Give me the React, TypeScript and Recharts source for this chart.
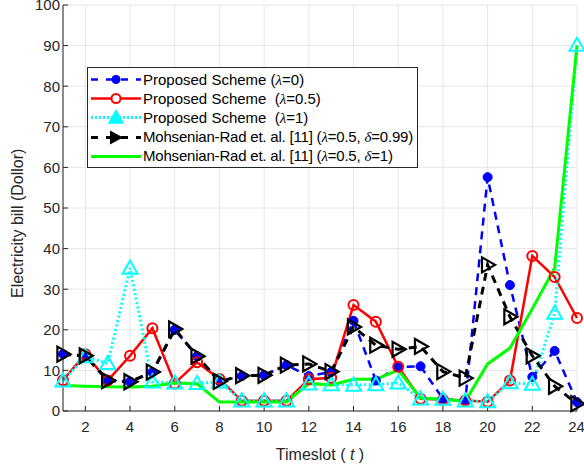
import React from "react";
import { CartesianGrid, Line, LineChart, XAxis, YAxis } from "recharts";

const slots = [1, 2, 3, 4, 5, 6, 7, 8, 9, 10, 11, 12, 13, 14, 15, 16, 17, 18, 19, 20, 21, 22, 23, 24];
const lambda0 = [14, 13.5, 7.5, 7.2, 9.5, 20, 13.5, 7.3, 8.6, 8.8, 11.3, 8.6, 9.6, 22.2, 7.5, 10.8, 11, 3, 2.5, 57.6, 31, 8.4, 14.8, 2.2];
const lambda05 = [7.6, 14, 7.5, 13.6, 20.4, 6.8, 12, 7.9, 2.5, 2.5, 2.5, 7.8, 8.2, 26.1, 22, 10.9, 3, 2.8, 2.6, 2.3, 7.5, 38.2, 33, 22.9];
const lambda1 = [7.4, 13.4, 11.7, 35.2, 7.2, 6.9, 6.8, 7.2, 2.5, 2.5, 2.5, 6.7, 6.5, 6.4, 6.5, 6.9, 3, 2.9, 2.5, 2.3, 7, 6.6, 24.1, 90.1];
const mohsenian099 = [14, 13.6, 7.5, 7.2, 9.6, 20.2, 13.5, 7.3, 8.7, 8.8, 11.3, 11.6, 9.7, 20.7, 16.2, 15.2, 15.9, 9.7, 8.1, 36, 23.2, 13.6, 6.1, 1.8];
const mohsenian1 = [6.3, 6.1, 6, 5.9, 6.1, 6.9, 6.7, 2.2, 2.2, 2.2, 2.2, 6.8, 6.4, 7.8, 7.8, 10.1, 3.2, 2.9, 2.4, 11.6, 15.5, 25.2, 35.2, 90];
const xTicks = [2, 4, 6, 8, 10, 12, 14, 16, 18, 20, 22, 24];
const yTicks = [0, 10, 20, 30, 40, 50, 60, 70, 80, 90, 100];

const data = slots.map((t, i) => ({
  t,
  a: lambda0[i],
  b: lambda05[i],
  c: lambda1[i],
  d: mohsenian099[i],
  e: mohsenian1[i],
}));

const axisColor = "#262626";
const font = "'Liberation Sans', Arial, sans-serif";

function CircleDot(props: any) {
  const { cx, cy } = props;
  if (cx == null || cy == null) return null;
  return <circle cx={cx} cy={cy} r={5} fill="none" stroke="#ff0000" strokeWidth={2} />;
}

function BlueDot(props: any) {
  const { cx, cy } = props;
  if (cx == null || cy == null) return null;
  return <circle cx={cx} cy={cy} r={4.5} fill="#0000ff" stroke="#0000ff" />;
}

function UpTri(props: any) {
  const { cx, cy } = props;
  if (cx == null || cy == null) return null;
  const s = 7.5;
  return (
    <polygon
      points={`${cx},${cy - s} ${cx - s},${cy + s * 0.75} ${cx + s},${cy + s * 0.75}`}
      fill="none"
      stroke="#00ffff"
      strokeWidth={2}
    />
  );
}

function RightTri(props: any) {
  const { cx, cy } = props;
  if (cx == null || cy == null) return null;
  const s = 7.5;
  return (
    <polygon
      points={`${cx + s},${cy} ${cx - s * 0.75},${cy - s} ${cx - s * 0.75},${cy + s}`}
      fill="none"
      stroke="#000000"
      strokeWidth={2.2}
    />
  );
}

const legendRows = [
  { key: "a", color: "#0000ff", dash: "7 8", width: 2.5, marker: "dot", pre: "Proposed Scheme (", sym: "λ", post: "=0)" },
  { key: "b", color: "#ff0000", dash: undefined, width: 2.5, marker: "circle", pre: "Proposed Scheme  (", sym: "λ", post: "=0.5)" },
  { key: "c", color: "#00ffff", dash: "2 2", width: 3, marker: "up", pre: "Proposed Scheme  (", sym: "λ", post: "=1)" },
  { key: "d", color: "#000000", dash: "7 8", width: 3, marker: "right", pre: "Mohsenian-Rad et. al. [11] (", sym: "λ", post: "=0.5, ", sym2: "δ", post2: "=0.99)" },
  { key: "e", color: "#00ff00", dash: undefined, width: 3, marker: "none", pre: "Mohsenian-Rad et. al. [11] (", sym: "λ", post: "=0.5, ", sym2: "δ", post2: "=1)" },
];

function LegendBox() {
  return (
    <div
      style={{
        position: "absolute",
        left: 87,
        top: 67,
        width: 331,
        height: 101,
        boxSizing: "border-box",
        border: `1px solid ${axisColor}`,
        background: "#fff",
        paddingTop: 2,
        fontFamily: font,
        fontSize: 15,
        color: "#000",
      }}
    >
      {legendRows.map((r) => (
        <div key={r.key} style={{ display: "flex", alignItems: "center", height: 19.2 }}>
          <svg width={55} height={19} style={{ flex: "none" }}>
            <line x1={3} y1={9.5} x2={53} y2={9.5} stroke={r.color} strokeWidth={r.width} strokeDasharray={r.dash} />
            {r.marker === "dot" && <circle cx={28} cy={9.5} r={4.5} fill="#0000ff" />}
            {r.marker === "circle" && <circle cx={28} cy={9.5} r={4.5} fill="#fff" stroke="#ff0000" strokeWidth={2} />}
            {r.marker === "up" && <polygon points="28,2.5 21,15 35,15" fill="#00ffff" stroke="#00ffff" strokeWidth={1.5} />}
            {r.marker === "right" && <polygon points="35,9.5 22,2.5 22,16.5" fill="#000" />}
          </svg>
          <span style={{ whiteSpace: "pre", letterSpacing: r.sym2 ? -0.2 : 0 }}>
            {r.pre}
            <span style={{ fontFamily: "'Liberation Serif', serif", fontStyle: "italic" }}>{r.sym}</span>
            {r.post}
            {r.sym2 && (
              <>
                <span style={{ fontFamily: "'Liberation Serif', serif", fontStyle: "italic" }}>{r.sym2}</span>
                {r.post2}
              </>
            )}
          </span>
        </div>
      ))}
    </div>
  );
}

function XLabel(props: any) {
  const { viewBox } = props;
  const cx = viewBox.x + viewBox.width / 2;
  return (
    <text x={cx} y={460} textAnchor="middle" fill={axisColor} fontSize={16} fontFamily={font}>
      Timeslot (
      <tspan fontStyle="italic"> t </tspan>)
    </text>
  );
}

export default function App() {
  return (
    <div style={{ position: "fixed", left: 0, top: 0, width: 584, height: 467, background: "#fff" }}>
      <LineChart width={584} height={467} data={data} margin={{ top: 5, right: 7, left: 0, bottom: 0 }}>
        <CartesianGrid stroke="#e6e6e6" strokeWidth={1} />
        <XAxis
          dataKey="t"
          type="number"
          domain={[1, 24]}
          ticks={xTicks}
          height={56}
          stroke={axisColor}
          tickSize={-5}
          tickMargin={15}
          tick={{ fill: axisColor, fontSize: 15, fontFamily: font }}
          label={<XLabel />}
        />
        <XAxis xAxisId="top" orientation="top" dataKey="t" type="number" domain={[1, 24]} ticks={xTicks} height={0} stroke={axisColor} tickSize={-5} tick={false} />
        <YAxis
          type="number"
          domain={[0, 100]}
          ticks={yTicks}
          width={63}
          stroke={axisColor}
          tickSize={-5}
          tickMargin={8}
          interval={0}
          tick={{ fill: axisColor, fontSize: 15, fontFamily: font }}
          label={{
            value: "Electricity bill (Dollor)",
            angle: -90,
            position: "insideLeft",
            dx: 12,
            dy: 90,
            style: { fill: axisColor, fontSize: 16, fontFamily: font },
          }}
        />
        <YAxis yAxisId="right" orientation="right" type="number" domain={[0, 100]} ticks={yTicks} width={0} stroke={axisColor} tickSize={-5} tick={false} />
        <Line dataKey="a" stroke="#0000ff" strokeWidth={2.5} strokeDasharray="8 6" dot={<BlueDot />} activeDot={false} isAnimationActive={false} />
        <Line dataKey="b" stroke="#ff0000" strokeWidth={2.5} dot={<CircleDot />} activeDot={false} isAnimationActive={false} />
        <Line dataKey="c" stroke="#00ffff" strokeWidth={3} strokeDasharray="2 2.5" dot={<UpTri />} activeDot={false} isAnimationActive={false} />
        <Line dataKey="d" stroke="#000000" strokeWidth={3} strokeDasharray="8 6" dot={<RightTri />} activeDot={false} isAnimationActive={false} />
        <Line dataKey="e" stroke="#00ff00" strokeWidth={3} dot={false} activeDot={false} isAnimationActive={false} />
      </LineChart>
      <LegendBox />
    </div>
  );
}
